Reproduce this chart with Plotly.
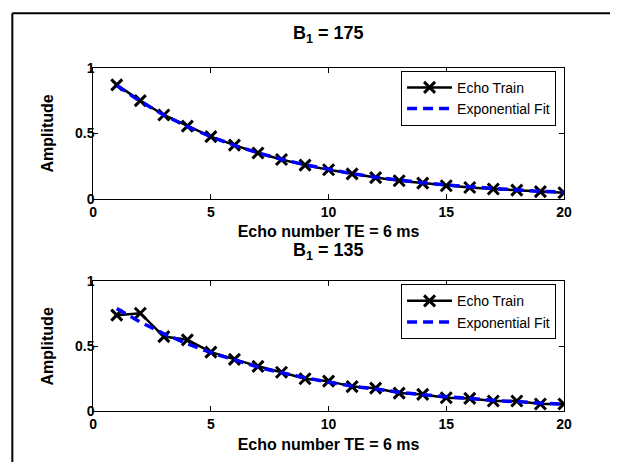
import plotly.graph_objects as go

W, H = 618, 470

echo_number = list(range(1, 21))

echo_175 = [0.87, 0.75, 0.64, 0.555, 0.475, 0.41, 0.35, 0.30, 0.257, 0.222,
            0.19, 0.162, 0.138, 0.12, 0.10, 0.086, 0.075, 0.066, 0.055, 0.046]
fit_175 = [0.865, 0.745, 0.64, 0.551, 0.474, 0.408, 0.351, 0.302, 0.260, 0.223,
           0.192, 0.165, 0.142, 0.122, 0.105, 0.091, 0.078, 0.067, 0.058, 0.050]

echo_135 = [0.74, 0.755, 0.575, 0.55, 0.455, 0.40, 0.346, 0.30, 0.25, 0.232,
            0.19, 0.178, 0.14, 0.13, 0.104, 0.099, 0.079, 0.079, 0.056, 0.056]
fit_135 = [0.79, 0.687, 0.597, 0.519, 0.451, 0.392, 0.340, 0.296, 0.257, 0.223,
           0.194, 0.169, 0.147, 0.127, 0.111, 0.096, 0.084, 0.073, 0.063, 0.055]

titles = ["B<sub>1</sub> = 175", "B<sub>1</sub> = 135"]
x_title = "Echo number TE = 6 ms"
y_title = "Amplitude"
x_ticks = [0, 5, 10, 15, 20]
y_ticks = [0, 0.5, 1]

FONT = "Liberation Sans, Arial, Helvetica, sans-serif"

px_left, px_right = 91, 571
top_box = (62, 197.5)
bot_box = (283, 417.5)

def ydom(box):
    return [1 - box[1] / H, 1 - box[0] / H]

fig = go.Figure()

series = [(echo_175, fit_175, "x", "y", "legend"), (echo_135, fit_135, "x2", "y2", "legend2")]
for echo, fit, xa, ya, lg in series:
    fig.add_trace(go.Scatter(
        x=echo_number, y=echo, xaxis=xa, yaxis=ya, mode="lines+markers",
        name="Echo Train", legend=lg,
        line=dict(color="black", width=2.5),
        marker=dict(symbol="x-thin", size=11, line=dict(color="black", width=3), color="black"),
    ))
    fig.add_trace(go.Scatter(
        x=echo_number, y=fit, xaxis=xa, yaxis=ya, mode="lines",
        name="Exponential Fit", legend=lg,
        line=dict(color="#0000ff", width=3.5, dash="10px,6px"),
    ))

tickfont = dict(family=FONT, size=14, color="black", weight="bold")
titlefont = dict(family=FONT, size=16, color="black", weight="bold")

axis_common = dict(
    showgrid=False, zeroline=False, showline=True, linecolor="black",
    linewidth=1, mirror="ticks", ticks="inside", ticklen=5, tickcolor="black",
    tickfont=tickfont,
)
yaxis_extra = dict(ticklabelstandoff=-5)

legend_common = dict(
    xanchor="right", yanchor="top",
    bgcolor="white", bordercolor="black", borderwidth=1,
    font=dict(family=FONT, size=14, color="black"),
    itemwidth=45, tracegroupgap=0,
)

fig.update_layout(
    width=W, height=H,
    margin=dict(l=0, r=0, t=0, b=0),
    paper_bgcolor="white", plot_bgcolor="white",
    font=dict(family=FONT, color="black"),
    xaxis=dict(axis_common, range=[0, 20], tickvals=x_ticks, domain=[px_left / W, px_right / W],
               anchor="y", title=dict(text=x_title, standoff=7, font=titlefont)),
    yaxis=dict(axis_common, **yaxis_extra, range=[0, 1], tickvals=y_ticks, ticktext=["0", "0.5", "1"],
               domain=ydom(top_box), anchor="x",
               title=dict(text=y_title, standoff=17, font=titlefont)),
    xaxis2=dict(axis_common, range=[0, 20], tickvals=x_ticks, domain=[px_left / W, px_right / W],
                anchor="y2", title=dict(text=x_title, standoff=7, font=titlefont)),
    yaxis2=dict(axis_common, **yaxis_extra, range=[0, 1], tickvals=y_ticks, ticktext=["0", "0.5", "1"],
                domain=ydom(bot_box), anchor="x2",
                title=dict(text=y_title, standoff=17, font=titlefont)),
    legend=dict(legend_common, x=563 / W, y=1 - 65 / H),
    legend2=dict(legend_common, x=563 / W, y=1 - 286 / H),
    showlegend=True,
)

for t, ypx in zip(titles, [27, 252]):
    fig.add_annotation(text=t, x=(px_left + px_right) / 2 / W, y=1 - ypx / H,
                       xref="paper", yref="paper", showarrow=False,
                       xanchor="center", yanchor="middle",
                       font=dict(family=FONT, size=18, color="black", weight="bold"))

# outer frame (top and left edges)
fig.add_shape(type="line", xref="paper", yref="paper", x0=8.5 / W, x1=1, y0=1 - 5.5 / H, y1=1 - 5.5 / H,
              line=dict(color="black", width=2))
fig.add_shape(type="line", xref="paper", yref="paper", x0=8.5 / W, x1=8.5 / W, y0=0, y1=1 - 5.5 / H,
              line=dict(color="black", width=2))

fig.write_html("out.html")
